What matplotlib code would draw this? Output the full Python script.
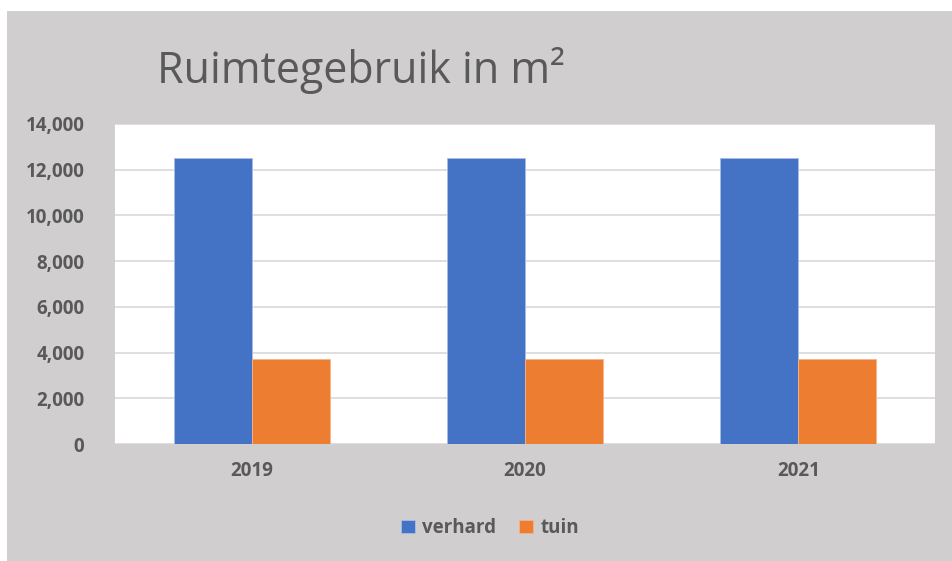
import matplotlib
matplotlib.use('Agg')
import matplotlib.pyplot as plt
from matplotlib.patches import Rectangle
import numpy as np

years = ['2019', '2020', '2021']
verhard = [12500, 12500, 12500]
tuin = [3700, 3700, 3700]

BLUE = '#4472c4'
ORANGE = '#ed7d31'
BG = '#d0cecf'
TXT = '#595959'

plt.rcParams['font.family'] = ['Open Sans', 'DejaVu Sans']

fig = plt.figure(figsize=(9.53, 5.61), dpi=100, facecolor='white')
fig.patches.append(Rectangle((7 / 953, 0), 1, 1 - 11 / 561, transform=fig.transFigure,
                             facecolor=BG, edgecolor='none', zorder=-10))

ax = fig.add_axes([115 / 953, 117 / 561, 820 / 953, 320 / 561])
ax.set_facecolor('white')

x = np.arange(len(years))
w = 0.285
ax.bar(x - w / 2, verhard, w, color=BLUE, edgecolor='#a9bde6', linewidth=0.6, label='verhard', zorder=3)
ax.bar(x + w / 2, tuin, w, color=ORANGE, edgecolor='#f5b48a', linewidth=0.6, label='tuin', zorder=3)

ax.set_xlim(-0.5, 2.5)
ax.set_ylim(0, 14000)
ax.set_yticks(range(0, 14001, 2000))
ax.set_yticklabels([f'{v:,}' for v in range(0, 14001, 2000)])
ax.set_xticks(x)
ax.set_xticklabels(years)
ax.grid(axis='y', color='#d9d9d9', linewidth=1.2, zorder=0)
for s in ax.spines.values():
    s.set_visible(False)
ax.tick_params(length=0, colors=TXT, labelsize=13.5)
ax.tick_params(axis='y', pad=22)
ax.tick_params(axis='x', pad=12)
for lab in ax.get_xticklabels() + ax.get_yticklabels():
    lab.set_fontweight('bold')

fig.text(157 / 953, 1 - 83 / 561, 'Ruimtegebruik in m²', fontsize=31, color=TXT,
         ha='left', va='baseline')

leg = fig.legend(loc='center', bbox_to_anchor=(490 / 953, 1 - 528 / 561), ncol=2,
                 frameon=False, handlelength=0.75, handleheight=0.75, handletextpad=0.4,
                 columnspacing=1.2, prop={'weight': 'bold', 'size': 13.5})
for t in leg.get_texts():
    t.set_color(TXT)

fig.savefig('out.png', dpi=100, facecolor='white')
